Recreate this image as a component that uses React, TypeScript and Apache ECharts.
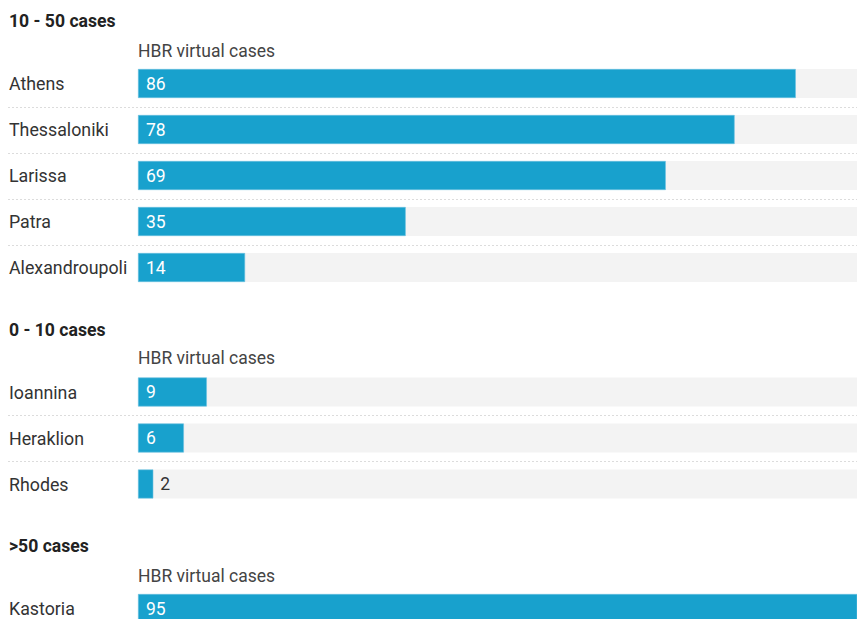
import React, { useEffect, useRef } from "react";
import * as echarts from "echarts";

const groupTitles = ["10 - 50 cases", "0 - 10 cases", ">50 cases"];
const columnHeader = "HBR virtual cases";

const citiesMid = ["Athens", "Thessaloniki", "Larissa", "Patra", "Alexandroupoli"];
const casesMid = [86, 78, 69, 35, 14];

const citiesLow = ["Ioannina", "Heraklion", "Rhodes"];
const casesLow = [9, 6, 2];

const citiesHigh = ["Kastoria"];
const casesHigh = [95];

const AXIS_MAX = 94;

const W = 857;
const H = 619;
const CH = 660;
const BAR_LEFT = 138;
const ROW = 46;
const BAR_H = 29;
const FONT = "Roboto, 'Noto Sans', sans-serif";
const BLUE = "#18a1cd";

const groups = [
  { cats: citiesMid, vals: casesMid, firstCenter: 83.5, titleY: 21, headerY: 50.5 },
  { cats: citiesLow, vals: casesLow, firstCenter: 392, titleY: 330, headerY: 358 },
  { cats: citiesHigh, vals: casesHigh, firstCenter: 608.5, titleY: 546, headerY: 576 },
];

export default function App() {
  const ref = useRef<HTMLDivElement>(null);

  useEffect(() => {
    if (!ref.current) return;
    const chart = echarts.init(ref.current, undefined, { renderer: "svg" });

    const grid = groups.map((g) => ({
      left: BAR_LEFT,
      right: 0,
      top: g.firstCenter - ROW / 2,
      height: ROW * g.cats.length,
      containLabel: false,
    }));
    const xAxis = groups.map((_, i) => ({
      type: "value",
      gridIndex: i,
      min: 0,
      max: AXIS_MAX,
      show: false,
    }));
    const yAxis = groups.map((g, i) => ({
      type: "category",
      gridIndex: i,
      data: g.cats,
      inverse: true,
      axisLine: { show: false },
      axisTick: { show: false },
      splitLine: { show: false },
      axisLabel: {
        align: "left",
        margin: BAR_LEFT - 9,
        fontSize: 17.8,
        color: "#333",
        fontFamily: FONT,
      },
    }));
    const series = groups.map((g, i) => ({
      type: "bar",
      xAxisIndex: i,
      yAxisIndex: i,
      barWidth: BAR_H,
      clip: true,
      showBackground: true,
      backgroundStyle: { color: "#f3f3f3" },
      itemStyle: { color: BLUE, borderColor: "#6cc2e2", borderWidth: 0.6 },
      label: {
        show: true,
        position: "insideLeft",
        distance: 8,
        color: "#fff",
        fontSize: 17.5,
        fontWeight: "normal",
        fontFamily: FONT,
      },
      data: g.vals.map((v) =>
        v / AXIS_MAX < 0.04
          ? { value: v, label: { position: "right", distance: 7, color: "#333" } }
          : v
      ),
    }));

    chart.setOption({
      animation: false,
      backgroundColor: "#fff",
      grid,
      xAxis,
      yAxis,
      series,
    });

    const graphic: any[] = [];
    groups.forEach((g, gi) => {
      graphic.push({
        type: "text",
        x: 9,
        y: g.titleY,
        style: {
          text: groupTitles[gi],
          fill: "#222",
          font: `bold 17.6px ${FONT}`,
          verticalAlign: "middle",
        },
      });
      graphic.push({
        type: "text",
        x: BAR_LEFT,
        y: g.headerY,
        style: {
          text: columnHeader,
          fill: "#444",
          font: `17.5px ${FONT}`,
          verticalAlign: "middle",
        },
      });
      for (let k = 0; k < g.cats.length - 1; k++) {
        const a = chart.convertToPixel({ yAxisIndex: gi } as any, g.cats[k]) as unknown as number;
        const b = chart.convertToPixel({ yAxisIndex: gi } as any, g.cats[k + 1]) as unknown as number;
        const y = Math.round((a + b) / 2) + 0.5;
        graphic.push({
          type: "line",
          shape: { x1: 8, y1: y, x2: W, y2: y },
          style: { stroke: "#dcdcdc", lineWidth: 1, lineDash: [2, 2] },
          silent: true,
        });
      }
    });
    chart.setOption({ graphic });

    return () => chart.dispose();
  }, []);

  return (
    <div
      style={{
        position: "absolute",
        left: 0,
        top: 0,
        width: W,
        height: H,
        overflow: "hidden",
        background: "#fff",
      }}
    >
      <div ref={ref} style={{ width: W, height: CH }} />
    </div>
  );
}
